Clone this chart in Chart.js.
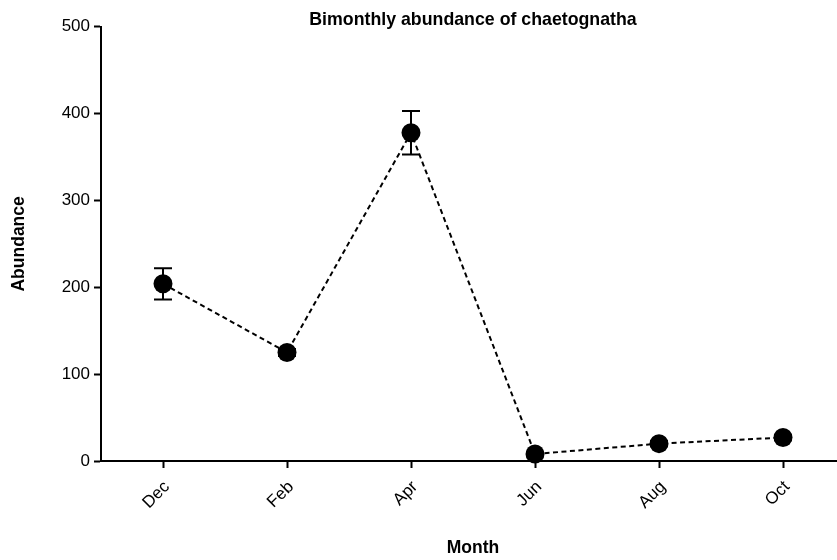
<!DOCTYPE html>
<html>
<head>
<meta charset="utf-8">
<script src="https://cdn.jsdelivr.net/npm/chart.js@4"></script>
<style>
  html, body { margin: 0; padding: 0; background: #fff; overflow: hidden; }
  /* the plot runs a few pixels past the right edge of the frame */
  #wrap { width: 837px; height: 560px; overflow: hidden; }
  canvas { display: block; }
</style>
</head>
<body>
<div id="wrap"><canvas id="c" width="845" height="560"></canvas></div>
<script>
// Bimonthly chaetognatha abundance: mean and SD per sampling month
const months = ["Dec", "Feb", "Apr", "Jun", "Aug", "Oct"];
const meanAbundance = [204, 125, 378, 8, 20, 27];
const sdAbundance = [18, 4, 25, 2, 3, 3];
const yTicks = [0, 100, 200, 300, 400, 500];

const FONT = "'Liberation Sans', Arial, Helvetica, sans-serif";

// vertical SD whiskers with caps, drawn underneath the markers
const errorBars = {
  id: "errorBars",
  beforeDatasetsDraw(chart) {
    const { ctx, scales: { x, y } } = chart;
    ctx.save();
    ctx.strokeStyle = "#000";
    ctx.lineWidth = 2;
    meanAbundance.forEach((m, i) => {
      const px = x.getPixelForValue(i);
      const top = y.getPixelForValue(m + sdAbundance[i]);
      const bot = y.getPixelForValue(m - sdAbundance[i]);
      const half = 9;
      ctx.beginPath();
      ctx.moveTo(px, top); ctx.lineTo(px, bot);
      ctx.moveTo(px - half, top); ctx.lineTo(px + half, top);
      ctx.moveTo(px - half, bot); ctx.lineTo(px + half, bot);
      ctx.stroke();
    });
    ctx.restore();
  }
};

new Chart(document.getElementById("c"), {
  type: "line",
  data: {
    labels: months,
    datasets: [{
      data: meanAbundance,
      borderColor: "#000",
      borderWidth: 2,
      borderDash: [5, 3.5],
      tension: 0,
      pointRadius: 9.5,
      pointBackgroundColor: "#000",
      pointBorderColor: "#000",
      pointBorderWidth: 0,
      fill: false,
      clip: false
    }]
  },
  options: {
    responsive: false,
    animation: false,
    layout: { padding: 0, autoPadding: false },
    plugins: {
      legend: { display: false },
      tooltip: { enabled: false },
      title: {
        display: true,
        fullSize: false,
        text: "Bimonthly abundance of chaetognatha",
        color: "#000",
        font: { family: FONT, size: 17.75, weight: "bold", lineHeight: 1 },
        padding: { top: 11, bottom: -2 }
      }
    },
    scales: {
      x: {
        type: "category",
        offset: true,
        afterFit(s) { s.height = 99; s.paddingLeft = 0; s.paddingRight = 0; },
        ticks: {
          autoSkip: false,
          minRotation: 45,
          maxRotation: 45,
          padding: 9,
          labelOffset: 4,
          color: "#000",
          font: { family: FONT, size: 17 }
        },
        grid: { offset: false, drawOnChartArea: false, drawTicks: true, tickLength: 7, tickColor: "#000", tickWidth: 2 },
        border: { display: true, color: "#000", width: 2 },
        title: {
          display: true,
          text: "Month",
          color: "#000",
          font: { family: FONT, size: 17.5, weight: "bold", lineHeight: 1 },
          padding: { top: 0, bottom: 3 }
        }
      },
      y: {
        min: 0,
        max: 500,
        afterBuildTicks(s) { s.ticks = yTicks.map(v => ({ value: v })); },
        afterFit(s) { s.width = 101; },
        ticks: {
          padding: 4,
          color: "#000",
          font: { family: FONT, size: 17 }
        },
        grid: { drawOnChartArea: false, drawTicks: true, tickLength: 7, tickColor: "#000", tickWidth: 2 },
        border: { display: true, color: "#000", width: 2 },
        title: {
          display: true,
          text: "Abundance",
          color: "#000",
          font: { family: FONT, size: 17.5, weight: "bold", lineHeight: 1 },
          padding: { top: 10, bottom: 0 }
        }
      }
    }
  },
  plugins: [errorBars]
});
</script>
</body>
</html>
